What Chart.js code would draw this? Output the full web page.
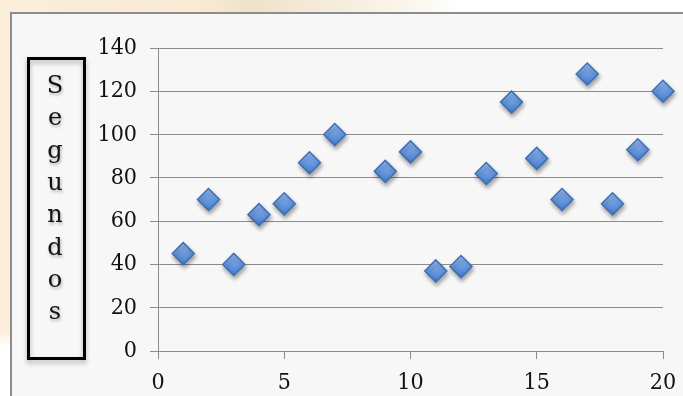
<!DOCTYPE html>
<html>
<head>
<meta charset="utf-8">
<script src="https://cdn.jsdelivr.net/npm/chart.js@4.4.1/dist/chart.umd.min.js"></script>
<style>
  html, body { margin: 0; padding: 0; }
  body {
    width: 683px; height: 396px; overflow: hidden; position: relative;
    background:
      linear-gradient(to bottom, rgba(255,255,255,0) 0px, rgba(255,255,255,0) 330px, #ffffff 346px) 0 0 / 12px 396px no-repeat,
      linear-gradient(to right, #fbeedb 0px, #f8ead3 200px, #efe2ca 250px, #f3e8d4 300px, #faf4ea 400px, #ffffff 460px);
  }
  #frame {
    position: absolute; left: 10px; top: 12px; width: 700px; height: 400px;
    box-sizing: border-box; background: #f7f7f7; border: 2px solid #8c8c8c;
  }
  #wrap { position: absolute; left: 0; top: 0; width: 683px; height: 396px; }
</style>
</head>
<body>
<div id="frame"></div>
<div id="wrap"><canvas id="chart" width="683" height="396"></canvas></div>
<script>
// Measurements: trial number and time taken in seconds
const trialNumbers = [1, 2, 3, 4, 5, 6, 7, 9, 10, 11, 12, 13, 14, 15, 16, 17, 18, 19, 20];
const seconds      = [45, 70, 40, 63, 68, 87, 100, 83, 92, 37, 39, 82, 115, 89, 70, 128, 68, 93, 120];

// Axis tick values
const xTickValues = [0, 5, 10, 15, 20];
const yTickValues = [0, 20, 40, 60, 80, 100, 120, 140];

const yTitle = 'Segundos';

const FONT = '"DejaVu Serif Condensed", "DejaVu Serif", serif';
const GRID = '#8c8c8c';

// Soft drop shadow under the diamond markers
const markerShadow = {
  id: 'markerShadow',
  beforeDatasetsDraw(chart) {
    const c = chart.ctx;
    c.save();
    c.shadowColor = 'rgba(0,0,0,0.35)';
    c.shadowBlur = 4;
    c.shadowOffsetX = 1;
    c.shadowOffsetY = 3;
  },
  afterDatasetsDraw(chart) { chart.ctx.restore(); }
};

// Boxed, vertically stacked y-axis title
const stackedTitle = {
  id: 'stackedTitle',
  afterDraw(chart) {
    const c = chart.ctx;
    c.save();
    c.shadowColor = 'rgba(0,0,0,0.3)';
    c.shadowBlur = 5;
    c.shadowOffsetY = 3;
    c.strokeStyle = '#000';
    c.lineWidth = 3;
    c.strokeRect(28.5, 58.5, 56, 300);
    c.shadowColor = 'rgba(0,0,0,0.3)';
    c.shadowBlur = 3;
    c.shadowOffsetX = 1;
    c.shadowOffsetY = 2;
    c.fillStyle = '#111';
    c.font = '24px "DejaVu Serif", serif';
    c.textAlign = 'center';
    c.textBaseline = 'alphabetic';
    yTitle.split('').forEach((ch, i) => c.fillText(ch, 55, 93 + i * 32.3));
    c.restore();
  }
};

// Vertical light-to-dark fill for each diamond
const markerFill = (ctx) => {
  const fallback = '#6a9be0';
  if (ctx.type !== 'data' || !ctx.parsed) return fallback;
  const ch = ctx.chart;
  const py = ch.scales.y ? ch.scales.y.getPixelForValue(ctx.parsed.y) : NaN;
  if (!Number.isFinite(py)) return fallback;
  const g = ch.ctx.createLinearGradient(0, py - 11, 0, py + 11);
  g.addColorStop(0, '#9cc0f2');
  g.addColorStop(0.5, '#6a9be2');
  g.addColorStop(1, '#467acb');
  return g;
};

new Chart(document.getElementById('chart'), {
  type: 'scatter',
  data: {
    datasets: [{
      label: yTitle,
      data: trialNumbers.map((x, i) => ({ x, y: seconds[i] })),
      pointStyle: 'rectRot',
      pointRadius: 11,
      pointBorderWidth: 1.5,
      pointBorderColor: '#3d6fb8',
      pointBackgroundColor: markerFill,
      clip: false
    }]
  },
  options: {
    responsive: false,
    animation: false,
    events: [],
    layout: { padding: { left: 90, top: 48, right: 20, bottom: 0 } },
    plugins: { legend: { display: false }, tooltip: { enabled: false } },
    scales: {
      x: {
        type: 'linear',
        min: xTickValues[0],
        max: xTickValues[xTickValues.length - 1],
        afterBuildTicks: (s) => { s.ticks = xTickValues.map(v => ({ value: v })); },
        afterFit: (s) => { s.height = 45; s.paddingLeft = 0; s.paddingRight = 0; },
        grid: { drawOnChartArea: false, color: GRID, tickLength: 8 },
        border: { color: GRID, width: 1 },
        ticks: { color: '#111', font: { family: FONT, size: 23 }, padding: 10, maxRotation: 0 }
      },
      y: {
        type: 'linear',
        min: yTickValues[0],
        max: yTickValues[yTickValues.length - 1],
        afterBuildTicks: (s) => { s.ticks = yTickValues.map(v => ({ value: v })); },
        afterFit: (s) => { s.width = 68; },
        grid: { color: GRID, tickLength: 8 },
        border: { color: GRID, width: 1 },
        ticks: { color: '#111', font: { family: FONT, size: 23 }, padding: 13 }
      }
    }
  },
  plugins: [markerShadow, stackedTitle]
});
</script>
</body>
</html>
